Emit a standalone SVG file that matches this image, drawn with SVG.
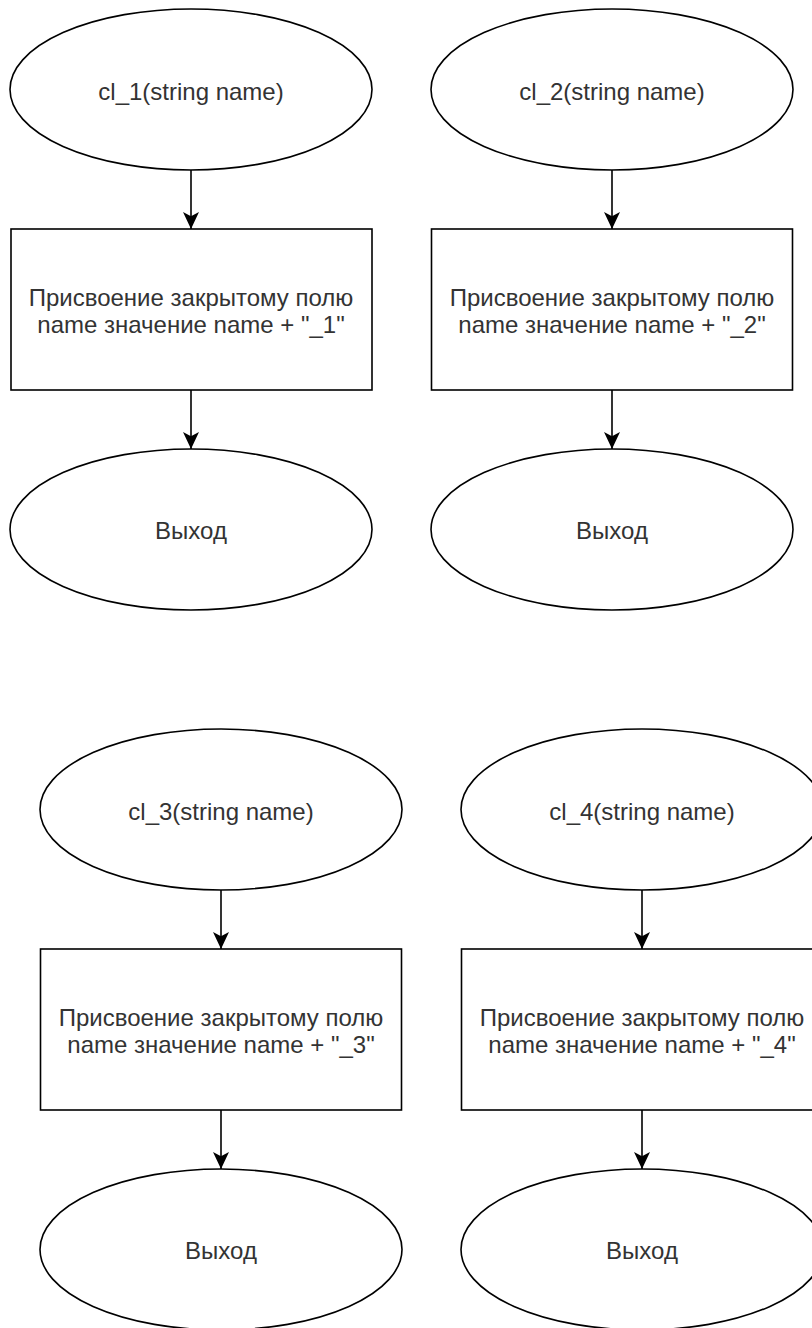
<svg xmlns="http://www.w3.org/2000/svg" width="812" height="1328" viewBox="0 0 812 1328">
<style>
.n{fill:#fff;stroke:#000;stroke-width:1.6}
.t{font-family:"Liberation Sans",Arial,sans-serif;font-size:24px;fill:#333;text-anchor:middle}
.e{fill:none;stroke:#000;stroke-width:1.6}
</style>
<defs>
<marker id="ah" markerUnits="userSpaceOnUse" markerWidth="18" markerHeight="16" viewBox="0 0 16 15" refX="16" refY="7.5" orient="auto">
<path d="M0,0 L16,7.5 L0,15 L4,7.5 Z" fill="#000"/>
</marker>
</defs>
<rect width="812" height="1328" fill="#fff"/>
<g id="connectors">
<line class="e" x1="191" y1="170" x2="191" y2="229" marker-end="url(#ah)"/>
<line class="e" x1="191" y1="390" x2="191" y2="449" marker-end="url(#ah)"/>
<line class="e" x1="612" y1="170" x2="612" y2="229" marker-end="url(#ah)"/>
<line class="e" x1="612" y1="390" x2="612" y2="449" marker-end="url(#ah)"/>
<line class="e" x1="221" y1="890" x2="221" y2="949" marker-end="url(#ah)"/>
<line class="e" x1="221" y1="1110" x2="221" y2="1169" marker-end="url(#ah)"/>
<line class="e" x1="642" y1="890" x2="642" y2="949" marker-end="url(#ah)"/>
<line class="e" x1="642" y1="1110" x2="642" y2="1169" marker-end="url(#ah)"/>
</g>
<g id="start1"><ellipse class="n" cx="191" cy="89.5" rx="181" ry="80.5"/><text class="t" x="191" y="99.5">cl_1(string name)</text></g>
<g id="assign1"><rect class="n" x="11" y="229" width="361" height="161"/><text class="t" x="191" y="305.5">Присвоение закрытому полю</text><text class="t" x="191" y="333.3">name значение name + "_1"</text></g>
<g id="exit1"><ellipse class="n" cx="191" cy="529.5" rx="181" ry="80.5"/><text class="t" x="191" y="539">Выход</text></g>

<g id="start2"><ellipse class="n" cx="612" cy="89.5" rx="181" ry="80.5"/><text class="t" x="612" y="99.5">cl_2(string name)</text></g>
<g id="assign2"><rect class="n" x="431.5" y="229" width="361" height="161"/><text class="t" x="612" y="305.5">Присвоение закрытому полю</text><text class="t" x="612" y="333.3">name значение name + "_2"</text></g>
<g id="exit2"><ellipse class="n" cx="612" cy="529.5" rx="181" ry="80.5"/><text class="t" x="612" y="539">Выход</text></g>

<g id="start3"><ellipse class="n" cx="221" cy="809.5" rx="181" ry="80.5"/><text class="t" x="221" y="819.5">cl_3(string name)</text></g>
<g id="assign3"><rect class="n" x="40.5" y="949" width="361" height="161"/><text class="t" x="221" y="1025.5">Присвоение закрытому полю</text><text class="t" x="221" y="1053.3">name значение name + "_3"</text></g>
<g id="exit3"><ellipse class="n" cx="221" cy="1249.5" rx="181" ry="80.5"/><text class="t" x="221" y="1259">Выход</text></g>

<g id="start4"><ellipse class="n" cx="642" cy="809.5" rx="181" ry="80.5"/><text class="t" x="642" y="819.5">cl_4(string name)</text></g>
<g id="assign4"><rect class="n" x="461.5" y="949" width="361" height="161"/><text class="t" x="642" y="1025.5">Присвоение закрытому полю</text><text class="t" x="642" y="1053.3">name значение name + "_4"</text></g>
<g id="exit4"><ellipse class="n" cx="642" cy="1249.5" rx="181" ry="80.5"/><text class="t" x="642" y="1259">Выход</text></g>
</svg>
